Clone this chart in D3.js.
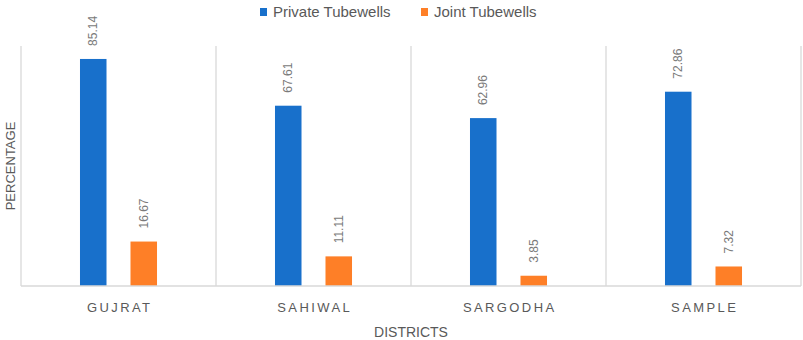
<!DOCTYPE html>
<html>
<head>
<meta charset="utf-8">
<script src="https://cdn.jsdelivr.net/npm/d3@7"></script>
<style>
  body { margin: 0; background: #fff; }
  text { font-family: "Liberation Sans", Arial, sans-serif; }
</style>
</head>
<body>
<script>
// districts and the two tubewell series (percent)
var districts = ["GUJRAT", "SAHIWAL", "SARGODHA", "SAMPLE"];
var seriesNames = ["Private Tubewells", "Joint Tubewells"];
var privateVals = [85.14, 67.61, 62.96, 72.86];
var jointVals = [16.67, 11.11, 3.85, 7.32];
var colors = ["#1870cb", "#fe7f27"];

var W = 803, H = 340;
var plotLeft = 21, plotRight = 801, plotTop = 46, plotBottom = 286;

var svg = d3.select("body").append("svg")
    .attr("width", W)
    .attr("height", H);

var data = districts.map(function(d, i){
    return {district: d, values: [privateVals[i], jointVals[i]]};
});

// scales
var x0 = d3.scaleBand()
    .domain(districts)
    .range([plotLeft, plotRight])
    .padding(0);

var x1 = d3.scaleBand()
    .domain(seriesNames)
    .range([0, x0.bandwidth()])
    .paddingInner(0.475)
    .paddingOuter(1.168);

var y = d3.scaleLinear()
    .domain([0, 90])
    .range([plotBottom, plotTop]);

// vertical separators between districts
var seps = districts.map(function(d){ return x0(d); }).concat([plotRight]);
svg.selectAll(".sep")
    .data(seps)
    .enter().append("line")
    .attr("class", "sep")
    .attr("x1", function(d){ return d; })
    .attr("x2", function(d){ return d; })
    .attr("y1", y(90))
    .attr("y2", y(0))
    .attr("stroke", "#d9d9d9")
    .attr("stroke-width", 1.3);

// bars
var groups = svg.selectAll(".grp")
    .data(data)
    .enter().append("g")
    .attr("class", "grp")
    .attr("transform", function(d){ return "translate(" + x0(d.district) + ",0)"; });

groups.selectAll("rect")
    .data(function(d){ return d.values.map(function(v, j){ return {name: seriesNames[j], v: v, j: j}; }); })
    .enter().append("rect")
    .attr("x", function(d){ return x1(d.name); })
    .attr("width", x1.bandwidth())
    .attr("y", function(d){ return y(d.v); })
    .attr("height", function(d){ return y(0) - y(d.v); })
    .attr("fill", function(d){ return colors[d.j]; });

// value labels, rotated
groups.selectAll(".lbl")
    .data(function(d){ return d.values.map(function(v, j){ return {name: seriesNames[j], v: v}; }); })
    .enter().append("text")
    .attr("class", "lbl")
    .attr("transform", function(d){
        var cx = x1(d.name) + x1.bandwidth() / 2 + 4;
        return "translate(" + cx + "," + (y(d.v) - 13) + ") rotate(-90)";
    })
    .attr("fill", "#7a7a7a")
    .style("font-size", "12px")
    .text(function(d){ return d.v.toFixed(2); });

// x axis line
svg.append("line")
    .attr("x1", plotLeft)
    .attr("x2", plotRight)
    .attr("y1", y(0))
    .attr("y2", y(0))
    .attr("stroke", "#d9d9d9")
    .attr("stroke-width", 1.3);

// district labels
svg.selectAll(".cat")
    .data(districts)
    .enter().append("text")
    .attr("class", "cat")
    .attr("x", function(d){ return x0(d) + x0.bandwidth() / 2 + 1.2; })
    .attr("y", 312)
    .attr("text-anchor", "middle")
    .attr("fill", "#595959")
    .style("font-size", "13px")
    .style("letter-spacing", "2.4px")
    .text(function(d){ return d; });

// axis titles
svg.append("text")
    .attr("x", 411)
    .attr("y", 337)
    .attr("text-anchor", "middle")
    .attr("fill", "#595959")
    .style("font-size", "14px")
    .text("DISTRICTS");

svg.append("text")
    .attr("transform", "translate(15,166) rotate(-90)")
    .attr("text-anchor", "middle")
    .attr("fill", "#595959")
    .style("font-size", "13px")
    .text("PERCENTAGE");

// legend
var legX = [260, 421];
var leg = svg.selectAll(".leg")
    .data(seriesNames)
    .enter().append("g")
    .attr("class", "leg")
    .attr("transform", function(d, i){ return "translate(" + legX[i] + ",0)"; });

leg.append("rect")
    .attr("x", 0)
    .attr("y", 8)
    .attr("width", 7)
    .attr("height", 8)
    .attr("fill", function(d, i){ return colors[i]; });

leg.append("text")
    .attr("x", 13)
    .attr("y", 17)
    .attr("fill", "#595959")
    .style("font-size", "15px")
    .text(function(d){ return d; });
</script>
</body>
</html>
